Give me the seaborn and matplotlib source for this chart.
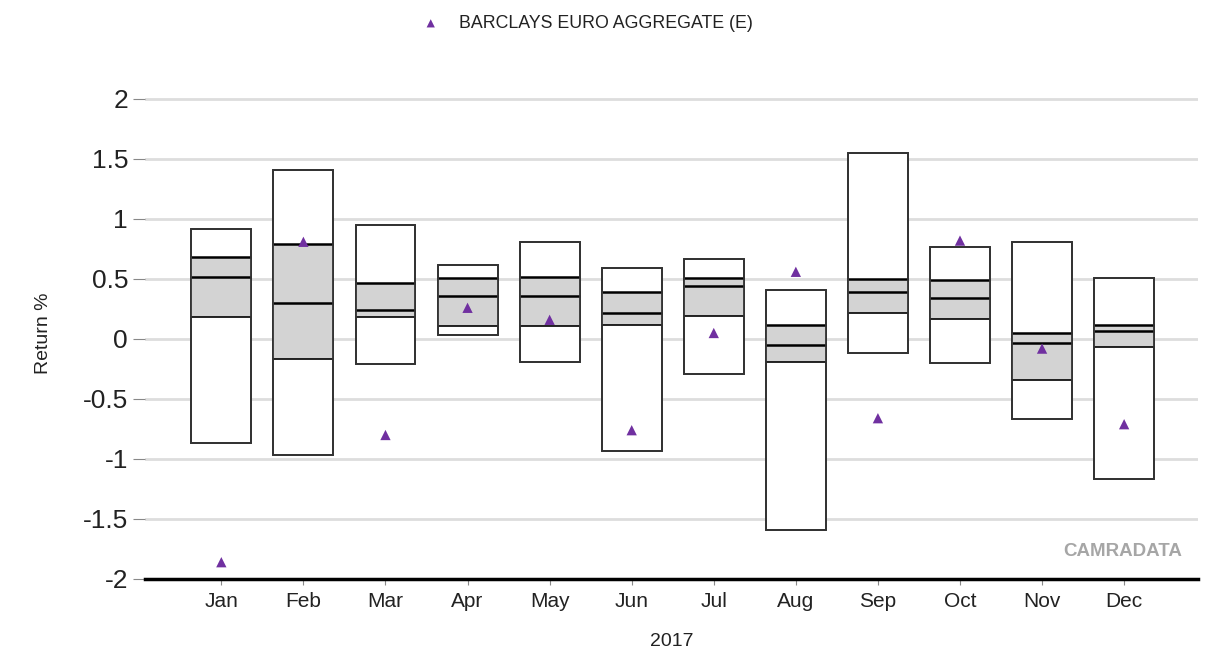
import matplotlib

matplotlib.use("Agg")

import matplotlib.pyplot as plt  # noqa: E402
import numpy as np  # noqa: E402
import pandas as pd  # noqa: E402
import seaborn as sns  # noqa: E402

# Dados (retorno % mensal, 2017)
months = ["Jan", "Feb", "Mar", "Apr", "May", "Jun",
          "Jul", "Aug", "Sep", "Oct", "Nov", "Dec"]
range_max = [0.92, 1.41, 0.95, 0.62, 0.81, 0.59, 0.67, 0.41, 1.55, 0.77, 0.81, 0.51]
upper_q = [0.68, 0.79, 0.47, 0.51, 0.52, 0.39, 0.51, 0.12, 0.50, 0.49, 0.05, 0.12]
median = [0.52, 0.30, 0.24, 0.36, 0.36, 0.22, 0.44, -0.05, 0.39, 0.34, -0.03, 0.07]
lower_q = [0.18, -0.17, 0.18, 0.11, 0.11, 0.12, 0.19, -0.19, 0.22, 0.17, -0.34, -0.07]
range_min = [-0.87, -0.97, -0.21, 0.03, -0.19, -0.93, -0.29, -1.59, -0.12, -0.20, -0.67, -1.17]
benchmark = [-1.86, 0.81, -0.80, 0.26, 0.16, -0.76, 0.05, 0.56, -0.66, 0.82, -0.08, -0.71]
benchmark_name = "BARCLAYS EURO AGGREGATE (E)"
y_ticks = [-2, -1.5, -1, -0.5, 0, 0.5, 1, 1.5, 2]
y_tick_labels = ["-2", "-1.5", "-1", "-0.5", "0", "0.5", "1", "1.5", "2"]

_INK = "#222222"
_GRID = "#dddddd"
_FILL = "#d3d3d3"
_EDGE = "#333333"
_MARK = "#7030a0"
_BOX_W = 0.73

sns.set_theme(style="white")
plt.rcParams["font.family"] = ["Liberation Sans", "DejaVu Sans"]

df = pd.DataFrame({
    "month": months,
    "pos": np.arange(len(months)),
    "max": range_max,
    "q3": upper_q,
    "med": median,
    "q1": lower_q,
    "min": range_min,
    "bench": benchmark,
})

fig = plt.figure(figsize=(12.15, 6.55), dpi=100)
ax = fig.add_axes([145 / 1215, 76 / 655, (1198 - 145) / 1215, 492 / 655])

# faixa completa (mín-máx)
ax.bar(df["pos"], df["max"] - df["min"], bottom=df["min"], width=_BOX_W,
       color="white", edgecolor=_EDGE, linewidth=1.3, zorder=2)
# faixa interquartil
ax.bar(df["pos"], df["q3"] - df["q1"], bottom=df["q1"], width=_BOX_W,
       color=_FILL, edgecolor="none", zorder=3)
ax.hlines(df["q3"], df["pos"] - _BOX_W / 2, df["pos"] + _BOX_W / 2,
          color="black", linewidth=1.8, zorder=4)
ax.hlines(df["med"], df["pos"] - _BOX_W / 2, df["pos"] + _BOX_W / 2,
          color="black", linewidth=1.8, zorder=4)
ax.hlines(df["q1"], df["pos"] - _BOX_W / 2, df["pos"] + _BOX_W / 2,
          color="black", linewidth=1.2, zorder=4)
# re-desenha a borda externa por cima do preenchimento
ax.bar(df["pos"], df["max"] - df["min"], bottom=df["min"], width=_BOX_W,
       color="none", edgecolor=_EDGE, linewidth=1.3, zorder=5)

sns.scatterplot(data=df, x="pos", y="bench", marker="^", s=55, color=_MARK,
                edgecolor="none", ax=ax, zorder=6, label=benchmark_name)

ax.set_xlim(-0.93, 11.9)
ax.set_ylim(-2, 2.1)
ax.set_yticks(y_ticks)
ax.set_yticklabels(y_tick_labels, fontsize=19, color=_INK)
ax.set_xticks(df["pos"])
ax.set_xticklabels(months, fontsize=15, color=_INK)
ax.tick_params(axis="y", left=True, length=8.6, width=0.8, color="#888888", pad=3.6)
ax.tick_params(axis="x", bottom=True, length=4.3, width=0.8, color="#888888", pad=5)
ax.grid(axis="y", color=_GRID, linewidth=2)
ax.set_axisbelow(True)
for side in ("top", "right", "left"):
    ax.spines[side].set_visible(False)
ax.spines["bottom"].set_color("black")
ax.spines["bottom"].set_linewidth(2.5)
ax.spines["bottom"].set_zorder(7)

ax.set_ylabel("Return %", fontsize=14, color=_INK, labelpad=22)
ax.set_xlabel("2017", fontsize=14, color=_INK, labelpad=16)

ax.legend(loc="upper center", bbox_to_anchor=(583 / 1215, 1 + 1 / 655),
          bbox_transform=fig.transFigure, frameon=False, fontsize=12.8,
          markerscale=0.8, handletextpad=0.6, labelcolor=_INK)

ax.text(0.985, 0.055, "CAMRADATA", transform=ax.transAxes, ha="right", va="center",
        fontsize=13.5, fontweight="bold", color="#a6a6a6", fontstretch="condensed")

fig.savefig("out.png", dpi=100)
plt.close(fig)
